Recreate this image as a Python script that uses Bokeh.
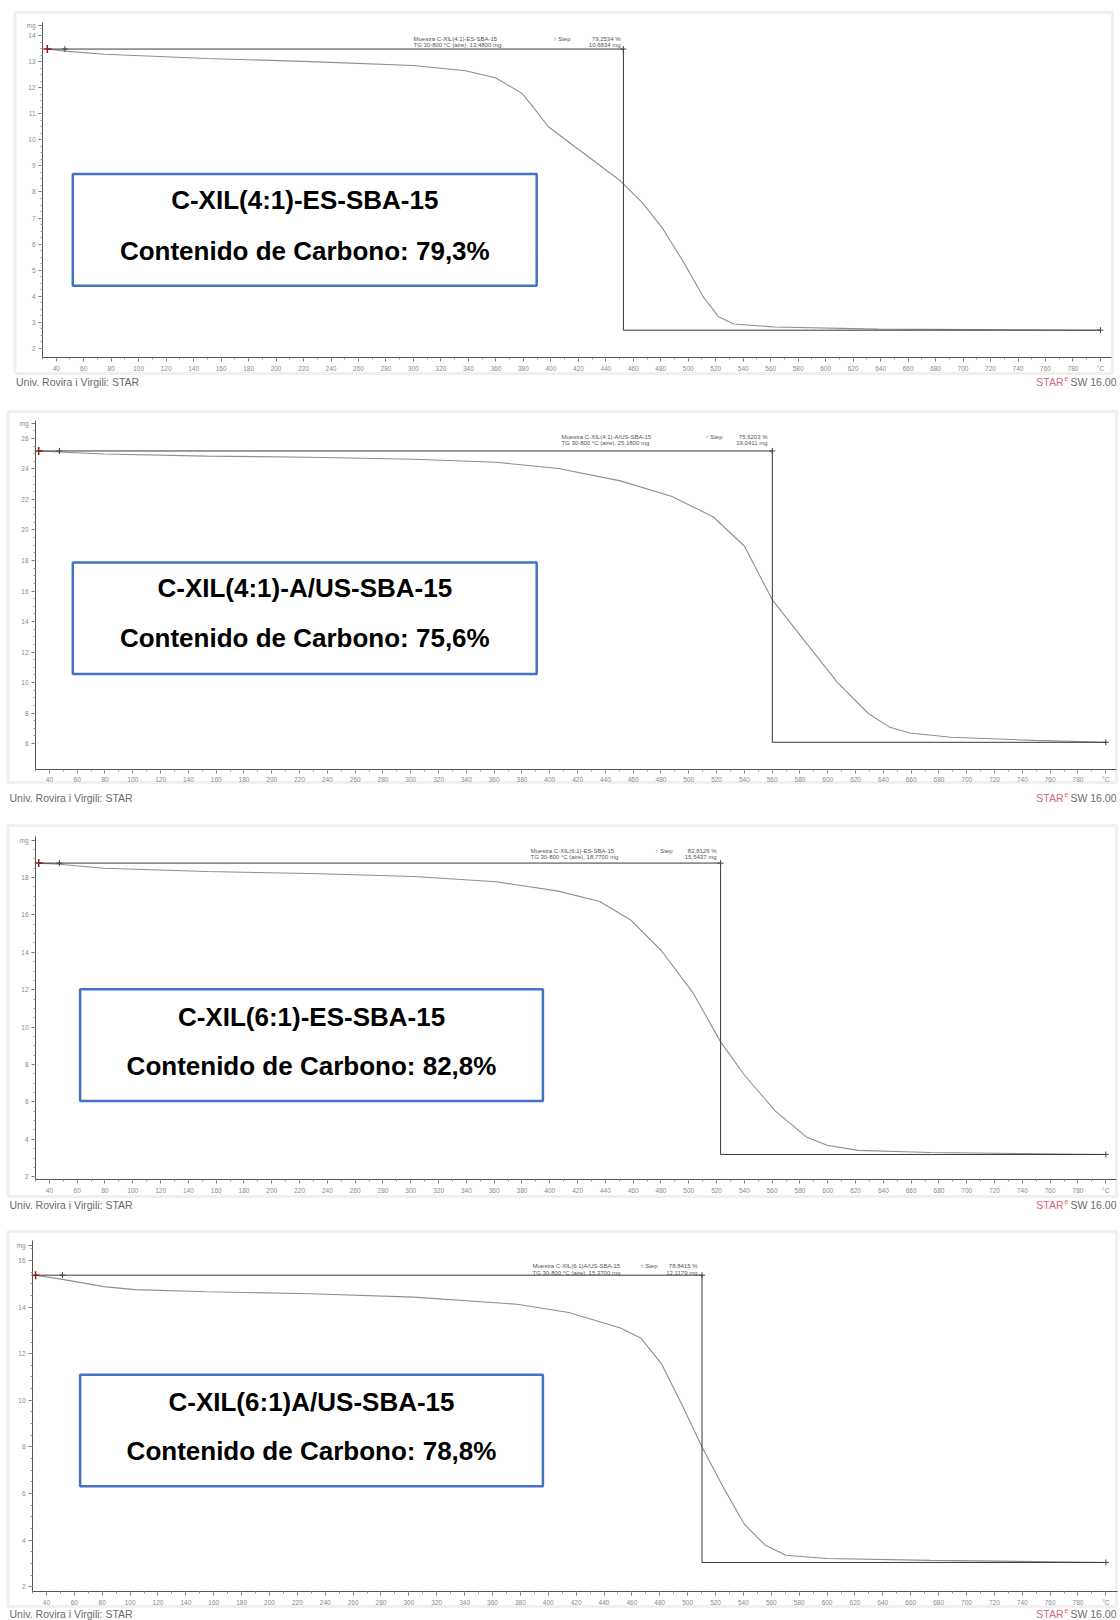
import numpy as np
from bokeh.plotting import figure
from bokeh.models import LinearAxis, FixedTicker, Range1d, Label, BoxAnnotation
from bokeh.layouts import column
from bokeh.embed import file_html
from bokeh.resources import INLINE

# ---------------- data ----------------
sample_names = ["C-XIL(4:1)-ES-SBA-15", "C-XIL(4:1)-A/US-SBA-15",
                "C-XIL(6:1)-ES-SBA-15", "C-XIL(6:1)A/US-SBA-15"]
carbon_content = ["79,3%", "75,6%", "82,8%", "78,8%"]

temp_1 = [33.5, 46.3, 75, 150, 225, 300, 338, 360, 379, 387, 398, 409, 428, 451,
          466, 481, 496, 511, 522, 533, 563, 638, 800]
mass_1 = [13.48, 13.40, 13.28, 13.12, 13.00, 12.85, 12.65, 12.37, 11.78, 11.26, 10.51,
          10.07, 9.32, 8.41, 7.62, 6.63, 5.36, 3.97, 3.22, 2.94, 2.82, 2.74, 2.70]

temp_2 = [32.3, 47.2, 79.1, 153.5, 227.8, 302.2, 361.6, 406.2, 450.8, 488.0, 517.7,
          540.0, 560.1, 584.6, 606.9, 629.2, 644.1, 658.9, 688.6, 748.1, 800]
mass_2 = [25.18, 25.11, 24.98, 24.84, 24.77, 24.64, 24.44, 24.03, 23.22, 22.20, 20.85,
          18.95, 15.42, 12.58, 10.01, 7.97, 7.09, 6.69, 6.41, 6.21, 6.08]

temp_3 = [32.3, 47.2, 79.1, 153.5, 227.8, 302.1, 361.6, 406.2, 435.9, 458.2, 480.5,
          502.8, 522.9, 540.0, 562.3, 584.6, 599.5, 621.8, 673.8, 800]
mass_3 = [18.77, 18.71, 18.49, 18.32, 18.21, 18.05, 17.77, 17.27, 16.72, 15.73, 14.07,
          11.86, 9.21, 7.44, 5.51, 4.13, 3.68, 3.41, 3.30, 3.19]

temp_4 = [32.2, 51.5, 81.2, 103.4, 155.3, 229.4, 303.5, 377.6, 414.7, 451.8, 466.6,
          481.4, 496.2, 510.3, 525.9, 540.7, 555.5, 570.4, 600.0, 674.1, 800]
mass_4 = [15.37, 15.19, 14.88, 14.75, 14.66, 14.57, 14.43, 14.12, 13.77, 13.10, 12.66,
          11.55, 9.78, 8.00, 6.23, 4.68, 3.79, 3.35, 3.21, 3.13, 3.04]

step_temp = [452.8, 560.1, 522.9, 510.3]          # vertical step-evaluation line (°C)

x_ticks = list(range(40, 801, 20))                  # 800 is shown as the unit "°C"
y_ticks_1 = list(range(2, 15, 1))
y_ticks_2 = list(range(6, 27, 2))
y_ticks_3 = list(range(2, 19, 2))
y_ticks_4 = list(range(2, 17, 2))
mg_tick = [14.38, 26.98, 20.0, 16.64]              # where the "mg" unit label sits

step_text = [
    ("Muestra C-XIL(4:1)-ES-SBA-15", "TG 30-800 °C (aire), 13,4800 mg", "79,2534 %", "10,6834 mg"),
    ("Muestra C-XIL(4:1)-A/US-SBA-15", "TG 30-800 °C (aire), 25,1800 mg", "75,6203 %", "19,0411 mg"),
    ("Muestra C-XIL(6:1)-ES-SBA-15", "TG 30-800 °C (aire), 18,7700 mg", "82,8126 %", "15,5437 mg"),
    ("Muestra C-XIL(6:1)A/US-SBA-15", "TG 30-800 °C (aire), 15,3700 mg", "78,8415 %", "12,1179 mg"),
]

temps = [temp_1, temp_2, temp_3, temp_4]
masses = [mass_1, mass_2, mass_3, mass_4]
y_major = [y_ticks_1, y_ticks_2, y_ticks_3, y_ticks_4]
y_minor_step = [0.25, 0.5, 0.5, 0.5]

# ---------------- layout (page pixels) ----------------
# fb = page y of the figure bottom; the frame spans the whole figure
layout = [
    dict(h=407, fb=407, xr=(-0.57, 814.6), yr=(-0.264, 15.342), xax=1.65, yax=30,
         border=(14.5, 12, 1112, 373),
         box=(72.3, 173.6, 536.2, 285.2), l1=199.4, l2=250.0, cx=304.3,
         tt=(413, 38, 44.5, 553, 620), foot=(15.5, 381)),
    dict(h=412, fb=819, xr=(4.82, 810.6), yr=(1.02, 28.03), xax=4.30, yax=30,
         border=(7.5, 411, 1116, 782),
         box=(72.3, 562.1, 536.2, 673.6), l1=587.9, l2=637.5, cx=304.3,
         tt=(561, 436, 442.5, 705, 767), foot=(9, 797)),
    dict(h=404, fb=1223, xr=(4.82, 810.6), yr=(-0.50, 21.10), xax=1.85, yax=30,
         border=(7.5, 825, 1116, 1196),
         box=(79.6, 988.8, 542.4, 1100.4), l1=1016.7, l2=1065.2, cx=311.0,
         tt=(530, 850, 856.5, 655, 716), foot=(9, 1204)),
    dict(h=397, fb=1620, xr=(7.04, 810.5), yr=(0.549, 17.588), xax=1.79, yax=30,
         border=(7.5, 1231, 1116, 1606),
         box=(79.6, 1374.2, 542.4, 1485.7), l1=1401.0, l2=1450.6, cx=311.0,
         tt=(532, 1265.7, 1272, 640, 697), foot=(9, 1613)),
]

FONT = "Liberation Sans"
figs = []
for i in range(4):
    L = layout[i]
    T = temps[i]
    M = masses[i]
    fb = L["fb"]

    def sx(px):
        return px

    def sy(py):
        return fb - py

    p = figure(width=1120, height=L["h"], output_backend="svg", toolbar_location=None,
               title=None, x_axis_location=None, y_axis_location=None,
               x_range=Range1d(*L["xr"]), y_range=Range1d(*L["yr"]),
               min_border_left=0, min_border_right=0,
               min_border_top=0, min_border_bottom=0)
    p.grid.visible = False
    p.outline_line_color = None
    p.background_fill_color = "white"
    p.border_fill_color = "white"

    # outer grey frame of the instrument printout
    b0, b1, b2, b3 = L["border"]
    p.add_layout(BoxAnnotation(left=sx(b0), right=sx(b2), top=sy(b1), bottom=sy(b3),
                               left_units="screen", right_units="screen",
                               top_units="screen", bottom_units="screen",
                               fill_alpha=0, line_color="#cccccc", line_width=3,
                               level="underlay"))

    # x axis
    xax = LinearAxis(fixed_location=L["xax"],
                     ticker=FixedTicker(ticks=x_ticks, minor_ticks=list(range(30, 801, 10))),
                     bounds=(L["yax"], 808))
    xax.major_label_overrides = {800: "°C"}
    # y axis
    yt = list(y_major[i]) + [mg_tick[i]]
    ymin = list(np.arange(y_major[i][0], mg_tick[i], y_minor_step[i]))
    yax = LinearAxis(fixed_location=L["yax"],
                     ticker=FixedTicker(ticks=yt, minor_ticks=ymin),
                     bounds=(L["xax"], mg_tick[i] + 0.1 * (y_major[i][1] - y_major[i][0])))
    ov = {v: str(v) for v in y_major[i]}
    ov[mg_tick[i]] = "mg"
    yax.major_label_overrides = ov
    for ax in (xax, yax):
        ax.axis_line_color = "#555555"
        ax.axis_line_width = 1
        ax.major_tick_line_color = "#777777"
        ax.minor_tick_line_color = "#999999"
        ax.major_tick_in = 0
        ax.major_tick_out = 4
        ax.minor_tick_in = 0
        ax.minor_tick_out = 2
        ax.major_label_text_font = FONT
        ax.major_label_text_font_size = "6.5px"
        ax.major_label_text_color = "#8a8a8a"
        ax.major_label_standoff = 3
    p.add_layout(xax, "below")
    p.add_layout(yax, "left")

    # TGA curve
    p.line(T, M, line_color="#8f8f8f", line_width=1.1)

    # step evaluation lines
    t0, m0, m_end, t_end = T[0], M[0], M[-1], T[-1]
    tv = step_temp[i]
    p.line([t0, tv], [m0, m0], line_color="#3a3a3a", line_width=1)
    p.line([tv, tv], [m0, m_end], line_color="#3a3a3a", line_width=1)
    p.line([tv, t_end], [m_end, m_end], line_color="#3a3a3a", line_width=1)
    p.scatter([t0], [m0], marker="cross", size=8, line_color="#8b1a1a", line_width=1.5)
    p.scatter([T[1], tv, t_end], [m0, m0, m_end], marker="cross", size=6,
              line_color="#444444", line_width=1)

    # tiny step-evaluation texts
    a, b, c, d = step_text[i]
    tx, ty1, ty2, tmid, tright = L["tt"]
    for txt, px, py, al in [(a, tx, ty1, "left"), (b, tx, ty2, "left"),
                            ("↑ Step", tmid, ty1, "left"),
                            (c, tright, ty1, "right"), (d, tright, ty2, "right")]:
        p.add_layout(Label(x=sx(px), y=sy(py), x_units="screen", y_units="screen", text=txt,
                           text_font=FONT, text_font_size="6px", text_color="#555555",
                           text_align=al, text_baseline="middle"))

    # name box
    bx0, by0, bx1, by1 = L["box"]
    p.add_layout(BoxAnnotation(left=sx(bx0), right=sx(bx1), top=sy(by0), bottom=sy(by1),
                               left_units="screen", right_units="screen",
                               top_units="screen", bottom_units="screen",
                               fill_color="white", fill_alpha=1.0,
                               line_color="#4472C4", line_width=2.5, line_alpha=1.0))
    for txt, py in [(sample_names[i], L["l1"]),
                    ("Contenido de Carbono: " + carbon_content[i], L["l2"])]:
        p.add_layout(Label(x=sx(L["cx"]), y=sy(py), x_units="screen", y_units="screen",
                           text=txt, text_font=FONT, text_font_size="26px",
                           text_font_style="bold", text_color="black",
                           text_align="center", text_baseline="middle"))

    # footer texts
    fx, fpy = L["foot"]
    fy = sy(fpy)
    p.add_layout(Label(x=sx(fx), y=fy, x_units="screen", y_units="screen",
                       text="Univ. Rovira i Virgili: STAR", text_font=FONT,
                       text_font_size="10.5px", text_color="#6a6a6a",
                       text_align="left", text_baseline="middle"))
    p.add_layout(Label(x=sx(1116), y=fy, x_units="screen", y_units="screen",
                       text="SW 16.00", text_font=FONT, text_font_size="10.5px",
                       text_color="#6a6a6a", text_align="right", text_baseline="middle"))
    p.add_layout(Label(x=sx(1068), y=fy + 3, x_units="screen", y_units="screen",
                       text="e", text_font=FONT, text_font_size="7px",
                       text_color="#d9667a", text_align="right", text_baseline="middle"))
    p.add_layout(Label(x=sx(1063), y=fy, x_units="screen", y_units="screen",
                       text="STAR", text_font=FONT, text_font_size="10.5px",
                       text_color="#d9667a", text_align="right", text_baseline="middle"))
    figs.append(p)

page = column(*figs, spacing=0)
open("out.html", "w").write(file_html(page, INLINE))
